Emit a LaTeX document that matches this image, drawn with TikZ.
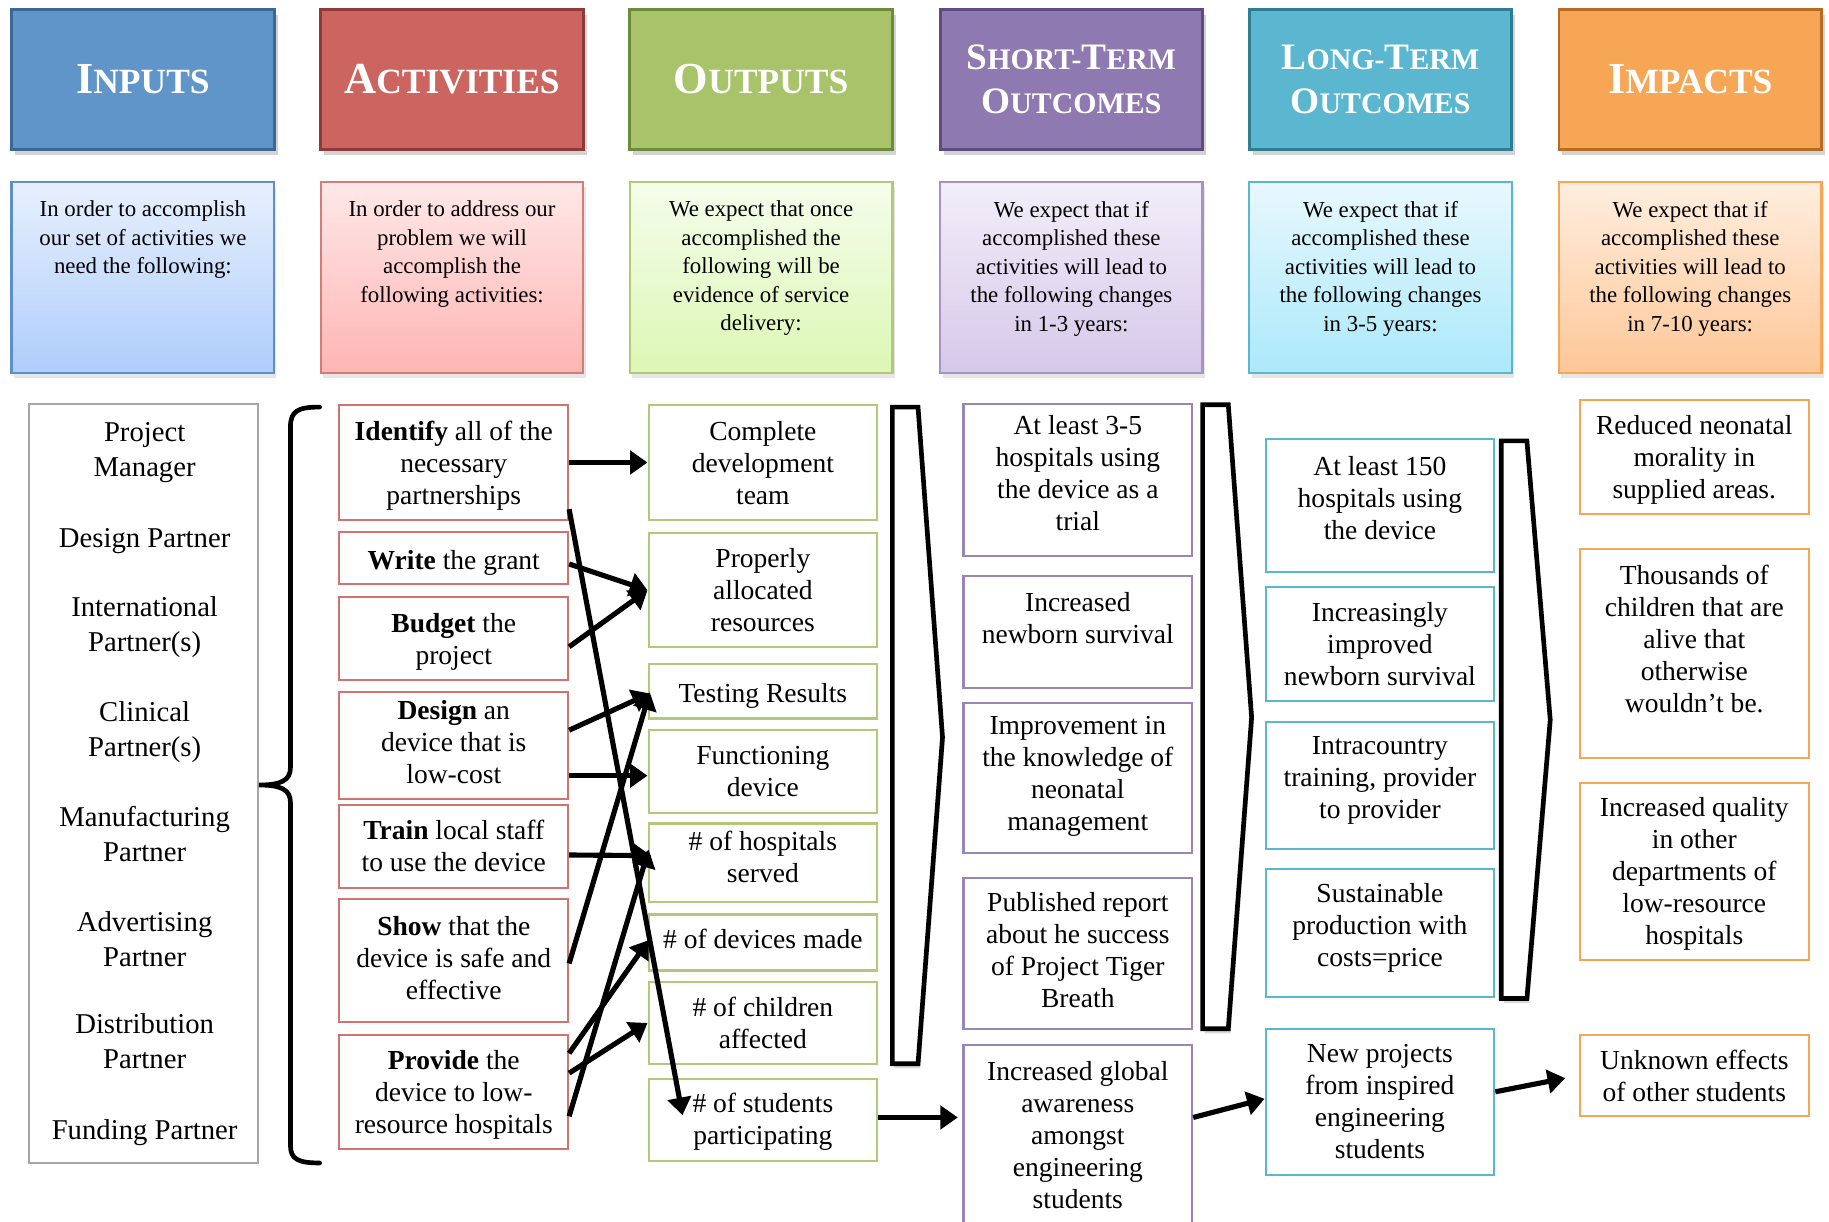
\documentclass[tikz,border=0pt]{standalone}
\usepackage{fontspec}
\setmainfont{Liberation Serif}
\usetikzlibrary{arrows.meta,calc,shadows}

\definecolor{inblue}{HTML}{5F95C8}
\definecolor{inblueD}{HTML}{3B6896}
\definecolor{inblueL}{HTML}{5D8FCB}
\definecolor{acred}{HTML}{CC6560}
\definecolor{acredD}{HTML}{8E3B37}
\definecolor{outgreen}{HTML}{A9C36B}
\definecolor{outgreenD}{HTML}{6E8A3C}
\definecolor{stpurple}{HTML}{8E79B0}
\definecolor{stpurpleD}{HTML}{5F4B7F}
\definecolor{ltcyan}{HTML}{5AB7CF}
\definecolor{ltcyanD}{HTML}{2E7D92}
\definecolor{imorange}{HTML}{F7A656}
\definecolor{imorangeD}{HTML}{B86B22}
% gradient ends of the description boxes
\definecolor{blueT}{HTML}{E8F0FE}
\definecolor{blueB}{HTML}{AECDFB}
\definecolor{redT}{HTML}{FFE8E8}
\definecolor{redB}{HTML}{FDB5B3}
\definecolor{greenT}{HTML}{F4FDEB}
\definecolor{greenB}{HTML}{DDF7B5}
\definecolor{purpT}{HTML}{F2EEF9}
\definecolor{purpB}{HTML}{D6C8EA}
\definecolor{cyanT}{HTML}{E8F8FE}
\definecolor{cyanB}{HTML}{ABE9FA}
\definecolor{orT}{HTML}{FFEEDF}
\definecolor{orB}{HTML}{FDC797}

\newcommand{\hbig}[2]{{\fontsize{19}{22}\selectfont #1}{\fontsize{15.2}{22}\selectfont #2}}
\newcommand{\hsml}[2]{{\fontsize{16}{19}\selectfont #1}{\fontsize{12.8}{19}\selectfont #2}}

\begin{document}
\begin{tikzpicture}[
  x=0.5pt, y=-0.5pt,
  font=\fontsize{11.8}{13.7}\selectfont,
  hdr/.style={draw, line width=1.2pt, minimum width=112.5pt, minimum height=60pt, text=white, align=center,
    font=\fontsize{19}{22}\selectfont\bfseries,
    drop shadow={shadow xshift=1.5pt, shadow yshift=-2.5pt, opacity=0.35}},
  hdrtwo/.style={hdr, font=\fontsize{16}{19}\selectfont\bfseries},
  desc/.style={draw, line width=1pt, minimum width=112.5pt, minimum height=82pt,
    drop shadow={shadow xshift=1pt, shadow yshift=-2pt, opacity=0.2}},
  desctxt/.style={anchor=north, inner sep=0pt, align=center, font=\fontsize{9.8}{12.2}\selectfont},
  box/.style={draw, line width=0.9pt, minimum width=98pt, align=center, inner ysep=1pt,
    execute at begin node={\rule{0pt}{12pt}}},
  actbox/.style={box, draw=acred!90},
  outbox/.style={box, draw=outgreen!90!white},
  stbox/.style={box, draw=stpurple!90!white},
  ltbox/.style={box, draw=ltcyan},
  imbox/.style={box, draw=imorange},
  txtup/.style={text depth=#1},
  inp/.style={align=center, font=\fontsize{12.3}{15}\selectfont},
  arrow/.style={-{Triangle[length=7.5pt, width=10pt]}, line width=2.2pt},
  chev/.style={draw, line width=2pt, fill=white, line join=miter,
    drop shadow={shadow xshift=1pt, shadow yshift=-2pt, opacity=0.3}},
  bracket/.style={line width=2pt, line cap=round}
]
\useasboundingbox (0,0) rectangle (1568,1047);

% headers
\node[hdr, fill=inblue, draw=inblueD] (h1) at (122.5,68) {\hbig{I}{NPUTS}};
\node[hdr, fill=acred, draw=acredD] (h2) at (387.5,68) {\hbig{A}{CTIVITIES}};
\node[hdr, fill=outgreen, draw=outgreenD] (h3) at (652.5,68) {\hbig{O}{UTPUTS}};
\node[hdrtwo, fill=stpurple, draw=stpurpleD] (h4) at (918.5,68) {\hsml{S}{HORT-}\hsml{T}{ERM}\\\hsml{O}{UTCOMES}};
\node[hdrtwo, fill=ltcyan, draw=ltcyanD] (h5) at (1183.5,68) {\hsml{L}{ONG-}\hsml{T}{ERM}\\\hsml{O}{UTCOMES}};
\node[hdr, fill=imorange, draw=imorangeD] (h6) at (1449,68) {\hbig{I}{MPACTS}};

% descriptions
\node[desc, draw=inblueL, top color=blueT, bottom color=blueB] (d1) at (122.5,238) {};
\node[desc, draw=acred!85, top color=redT, bottom color=redB] (d2) at (387.5,238) {};
\node[desc, draw=outgreen!90, top color=greenT, bottom color=greenB] (d3) at (652.5,238) {};
\node[desc, draw=stpurple!80, top color=purpT, bottom color=purpB] (d4) at (918.5,238) {};
\node[desc, draw=ltcyan, top color=cyanT, bottom color=cyanB] (d5) at (1183.5,238) {};
\node[desc, draw=imorange, top color=orT, bottom color=orB] (d6) at (1449,238) {};

\node[desctxt] (t1) at (122.5,172) {In order to accomplish\\our set of activities we\\need the following:};
\node[desctxt] (t2) at (387.5,172) {In order to address our\\problem we will\\accomplish the\\following activities:};
\node[desctxt] (t3) at (652.5,172) {We expect that once\\accomplished the\\following will be\\evidence of service\\delivery:};
\node[desctxt] (t4) at (918.5,172) {We expect that if\\accomplished these\\activities will lead to\\the following changes\\in 1-3 years:};
\node[desctxt] (t5) at (1183.5,172) {We expect that if\\accomplished these\\activities will lead to\\the following changes\\in 3-5 years:};
\node[desctxt] (t6) at (1449,172) {We expect that if\\accomplished these\\activities will lead to\\the following changes\\in 7-10 years:};

% inputs
\node[draw=black!35, line width=0.9pt, minimum width=98pt, minimum height=325.5pt] (inbox) at (123,671.5) {};
\node[inp] (i1) at (124,388) {Project\\Manager};
\node[inp] (i2) at (124,464) {Design Partner};
\node[inp] (i3) at (124,538) {International\\Partner(s)};
\node[inp] (i4) at (124,628) {Clinical\\Partner(s)};
\node[inp] (i5) at (124,715) {Manufacturing\\Partner};
\node[inp] (i6) at (124,805) {Advertising\\Partner};
\node[inp] (i7) at (124,893) {Distribution\\Partner};
\node[inp] (i8) at (124,971) {Funding Partner};

\draw[bracket] (274,349) .. controls (256,349) and (249,352) .. (249,366) -- (249,658)
  .. controls (249,669) and (241,673) .. (222,673) .. controls (241,673) and (249,677) .. (249,688)
  -- (249,982) .. controls (249,994) and (256,997) .. (274,997);

% activities
\node[actbox, minimum height=49.5pt, txtup=-1.4pt] (a1) at (389,396.5) {\textbf{Identify} all of the\\necessary\\partnerships};
\node[actbox, minimum height=22.5pt] (a2) at (389,478.5) {\textbf{Write} the grant};
\node[actbox, minimum height=35.5pt, txtup=-2.4pt] (a3) at (389,547.5) {\textbf{Budget} the\\project};
\node[actbox, minimum height=46pt, txtup=3pt] (a4) at (389,639) {\textbf{Design} an\\device that is\\low-cost};
\node[actbox, minimum height=35.5pt, txtup=-2pt] (a5) at (389,725.5) {\textbf{Train} local staff\\to use the device};
\node[actbox, minimum height=52.5pt, txtup=2pt] (a6) at (389,823.5) {\textbf{Show} that the\\device is safe and\\effective};
\node[actbox, minimum height=49pt, txtup=-1.4pt] (a7) at (389,936) {\textbf{Provide} the\\device to low-\\resource hospitals};

% outputs
\node[outbox, minimum height=49.5pt, txtup=-2pt] (o1) at (654,396.5) {Complete\\development\\team};
\node[outbox, minimum height=49pt, txtup=-2pt] (o2) at (654,506) {Properly\\allocated\\resources};
\node[outbox, minimum height=23.5pt] (o3) at (654,592.5) {Testing Results};
\node[outbox, minimum height=35.5pt] (o4) at (654,661.5) {Functioning\\device};
\node[outbox, minimum height=33.5pt, txtup=5pt] (o5) at (654,739.5) {\# of hospitals\\served};
\node[outbox, minimum height=24pt, txtup=7pt] (o6) at (654,808) {\# of devices made};
\node[outbox, minimum height=35pt, txtup=-2pt] (o7) at (654,877) {\# of children\\affected};
\node[outbox, minimum height=35pt, txtup=0.6pt] (o8) at (654,960) {\# of students\\participating};

% short-term outcomes
\node[stbox, minimum height=65.5pt, txtup=6pt] (s1) at (924,411.5) {At least 3-5\\hospitals using\\the device as a\\trial};
\node[stbox, minimum height=48pt, txtup=12pt] (s2) at (924,542) {Increased\\newborn survival};
\node[stbox, minimum height=64pt, txtup=4pt] (s3) at (924,667) {Improvement in\\the knowledge of\\neonatal\\management};
\node[stbox, minimum height=64.5pt, txtup=3pt] (s4) at (924,817.5) {Published report\\about he success\\of Project Tiger\\Breath};
\node[stbox, minimum height=78pt, txtup=1pt] (s5) at (924,974) {Increased global\\awareness\\amongst\\engineering\\students};

% long-term outcomes
\node[ltbox, minimum height=57pt, txtup=6pt] (l1) at (1183,433) {At least 150\\hospitals using\\the device};
\node[ltbox, minimum height=49pt, txtup=-2pt] (l2) at (1183,552) {Increasingly\\improved\\newborn survival};
\node[ltbox, minimum height=54.5pt, txtup=7pt] (l3) at (1183,673.5) {Intracountry\\training, provider\\to provider};
\node[ltbox, minimum height=55pt, txtup=7pt] (l4) at (1183,800) {Sustainable\\production with\\costs=price};
\node[ltbox, minimum height=62.5pt, txtup=-2pt] (l5) at (1183,944.5) {New projects\\from inspired\\engineering\\students};

% impacts
\node[imbox, minimum height=49pt, txtup=-2.4pt] (m1) at (1452.5,392) {Reduced neonatal\\morality in\\supplied areas.};
\node[imbox, minimum height=89.5pt, txtup=13pt] (m2) at (1452.5,560.5) {Thousands of\\children that are\\alive that\\otherwise\\wouldn’t be.};
\node[imbox, minimum height=76pt, txtup=-1.4pt] (m3) at (1452.5,747) {Increased quality\\in other\\departments of\\low-resource\\hospitals};
\node[imbox, minimum height=35pt, txtup=-1pt] (m4) at (1452.5,922) {Unknown effects\\of other students};

% chevrons
\draw[chev] (765,349) -- (787,349) -- (808,632) -- (787,912) -- (765,912) -- cycle;
\draw[chev] (1031,347) -- (1053,347) -- (1073,615) -- (1053,882) -- (1031,882) -- cycle;
\draw[chev] (1287,378) -- (1309,378) -- (1329,617) -- (1309,856) -- (1287,856) -- cycle;

% activities to outputs
\draw[arrow] (a1.east) -- (o1.west);
\draw[arrow] ($(a1.east)+(0,40)$) -- ($(o8.west)+(30,-4)$);
\draw[arrow] ($(a2.east)+(0,5)$) -- (o2.west);
\draw[arrow] ($(a3.east)+(0,7)$) -- (o2.west);
\draw[arrow] ($(a4.east)+(0,-13)$) -- ($(o3.west)+(2,2)$);
\draw[arrow] ($(a4.east)+(0,26)$) -- ($(o4.west)+(0,3.5)$);
\draw[arrow] ($(a5.east)+(0,7.5)$) -- ($(o5.west)+(3,-6)$);
\draw[arrow] ($(a6.east)+(0,2.5)$) -- ($(o3.west)+(2,1)$);
\draw[arrow] ($(a7.east)+(0,-33)$) -- ($(o6.west)+(1,-2)$);
\draw[arrow] ($(a7.east)+(0,-16)$) -- (o7.west);
\draw[arrow] ($(a7.east)+(0,21)$) -- ($(o5.west)+(1,-11)$);

% bottom chain
\draw[arrow, shorten >=2pt] ($(o8.east)+(0,-2)$) -- ($(s5.west)+(0,-16)$);
\draw[arrow] ($(s5.east)+(0,-16)$) -- ($(l5.west)+(0,-2.5)$);
\draw[arrow, shorten >=6pt] ($(l5.east)+(0,-8.5)$) -- (m4.west);

\end{tikzpicture}
\end{document}
